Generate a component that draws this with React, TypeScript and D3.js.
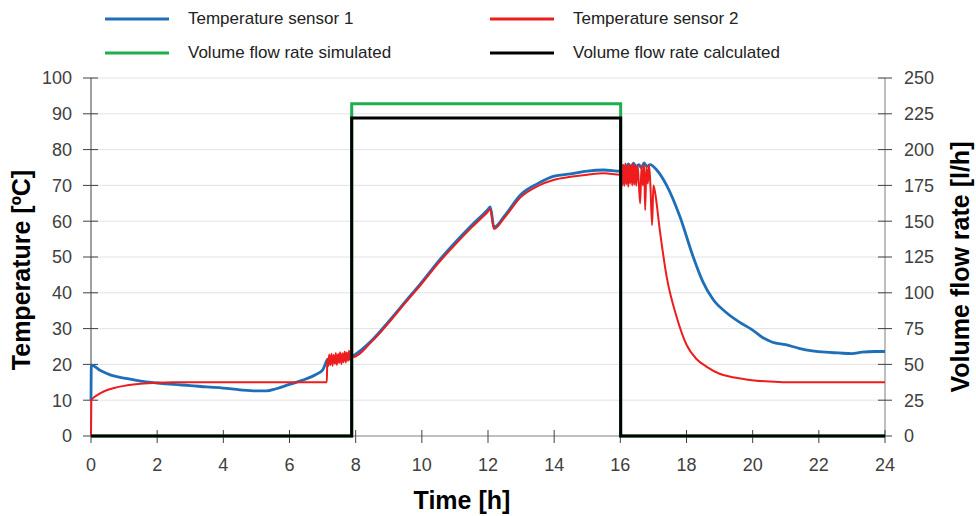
import * as d3 from 'd3'

// time [h] / temperature [°C] pairs
const sensor1Time = [
  0, 0.01, 0.3, 0.6, 1.0, 1.5, 2.0, 2.5, 3.0, 3.5, 4.0, 4.5, 5.0, 5.3, 5.6, 6.0, 6.4, 6.8, 7.0, 7.1, 7.15, 7.5, 7.9,
  8.5, 9.0, 9.5, 10.0, 10.5, 11.0, 11.5, 12.0, 12.07, 12.18, 12.5, 13.0, 13.5, 14.0, 14.5, 15.0, 15.5, 16.0,
  16.08, 16.16, 16.24, 16.32, 16.4, 16.48, 16.56, 16.64, 16.72, 16.8, 16.9,
  17.1, 17.4, 17.8, 18.2, 18.5, 18.8, 19.2, 19.6, 20.0, 20.3, 20.6, 21.0, 21.4, 21.8, 22.2, 22.6, 23.0, 23.3, 23.7, 24.0,
]
const sensor1Temp = [
  10, 19.8, 18.2, 17.0, 16.2, 15.3, 14.8, 14.4, 14.1, 13.7, 13.4, 12.9, 12.6, 12.6, 13.2, 14.4, 15.6, 17.2, 18.4, 20.5, 21.5, 21.2, 22.3,
  26.8, 32.0, 37.5, 43.0, 48.8, 54.0, 58.8, 63.3, 64.0, 58.3, 61.5, 67.5, 70.5, 72.6, 73.2, 74.0, 74.3, 74.0,
  75.5, 74.8, 76.0, 75.0, 76.2, 75.2, 75.8, 74.9, 76.3, 75.3, 75.8,
  74.3, 70.0, 61.3, 50.1, 43.0, 38.2, 34.5, 31.8, 29.6, 27.5, 26.2, 25.5, 24.5, 23.8, 23.4, 23.2, 23.0, 23.4, 23.6, 23.6,
]

const sensor2Time = [
  0, 0.01, 0.2, 0.4, 0.7, 1.0, 1.5, 2.0, 2.5, 7.13, 7.14,
  7.17, 7.2, 7.23, 7.27, 7.3, 7.33, 7.37, 7.4, 7.43, 7.47, 7.5, 7.53, 7.57, 7.6, 7.63, 7.67, 7.7, 7.73, 7.77, 7.8, 7.83, 7.87,
  7.9, 8.5, 9.0, 9.5, 10.0, 10.5, 11.0, 11.5, 12.0, 12.07, 12.18, 12.5, 13.0, 13.5, 14.0, 14.5, 15.0, 15.5, 16.0,
  16.03, 16.06, 16.09, 16.12, 16.15, 16.18, 16.21, 16.24, 16.27, 16.3, 16.33, 16.36, 16.39, 16.42, 16.45, 16.48,
  16.52, 16.56, 16.6, 16.64, 16.68, 16.72, 16.75, 16.79, 16.83, 16.87, 16.91, 16.96, 17.0,
  17.05, 17.2, 17.4, 17.7, 18.0, 18.3, 18.6, 19.0, 19.3, 19.8, 20.5, 21.0, 24.0,
]
const sensor2Temp = [
  0, 10, 11.5, 12.5, 13.4, 14.0, 14.6, 14.9, 15.0, 15.0, 21.4,
  19.5, 22.8, 19.8, 23.0, 19.6, 22.6, 20.2, 23.2, 19.9, 22.9, 20.4, 23.4, 20.1, 23.1, 20.6, 23.6, 20.5, 23.3, 21.0, 23.8, 21.2, 23.5,
  22.0, 26.5, 31.6, 37.2, 42.6, 48.3, 53.4, 58.2, 62.7, 63.4, 57.8, 61.0, 66.8, 69.8, 71.6, 72.4, 73.0, 73.4, 73.0,
  76.0, 70.0, 75.8, 69.8, 76.2, 70.3, 75.5, 69.6, 76.0, 70.5, 75.8, 70.0, 76.1, 70.2, 75.6, 69.9,
  75.8, 70.4, 65.0, 75.5, 70.0, 76.0, 63.1, 75.2, 70.5, 75.6, 69.8, 58.9, 70.0,
  68.0, 57.0, 44.5, 33.3, 25.5, 21.5, 19.4, 17.4, 16.6, 15.8, 15.2, 15.0, 15.0,
]

// time [h] / volume flow rate [l/h]
const flowTime = [0, 7.88, 7.88, 16.01, 16.01, 24]
const flowSimulated = [0, 0, 232, 232, 0, 0]
const flowCalculated = [0, 0, 222, 222, 0, 0]

const tempTicks = [0, 10, 20, 30, 40, 50, 60, 70, 80, 90, 100]
const flowTicks = [0, 25, 50, 75, 100, 125, 150, 175, 200, 225, 250]
const timeTicks = [0, 2, 4, 6, 8, 10, 12, 14, 16, 18, 20, 22, 24]

const legendItems = [
  { label: 'Temperature sensor 1', color: '#1f6fb8' },
  { label: 'Temperature sensor 2', color: '#ee1c1c' },
  { label: 'Volume flow rate simulated', color: '#1fae4f' },
  { label: 'Volume flow rate calculated', color: '#000000' },
]

const font = '"Liberation Sans", Arial, sans-serif'

export default function App() {
  const width = 976
  const height = 516
  const margin = { top: 78, right: 91, bottom: 80, left: 91 }
  const x0 = margin.left
  const x1 = width - margin.right
  const y0 = height - margin.bottom
  const y1 = margin.top

  const x = d3.scaleLinear().domain([0, 24]).range([x0, x1])
  const yT = d3.scaleLinear().domain([0, 100]).range([y0, y1])
  const yF = d3.scaleLinear().domain([0, 250]).range([y0, y1])

  const mk = (
    ts: number[],
    vs: number[],
    ys: d3.ScaleLinear<number, number>,
    curve: d3.CurveFactory = d3.curveLinear
  ) =>
    d3
      .line<number>()
      .x((_, i) => x(ts[i]))
      .y((d) => ys(d))
      .curve(curve)(vs) || ''

  return (
    <svg
      width={width}
      height={height}
      style={{ position: 'absolute', left: 0, top: 0, background: '#fff', fontFamily: font }}
    >
      {/* gridlines */}
      {tempTicks.slice(1).map((t) => (
        <line key={'g' + t} x1={x0} x2={x1} y1={yT(t)} y2={yT(t)} stroke="#e3e3e3" strokeWidth={1} />
      ))}

      {/* axes */}
      <line x1={x0} x2={x0} y1={y1} y2={y0} stroke="#404040" strokeWidth={1} />
      <line x1={x1} x2={x1} y1={y1} y2={y0} stroke="#7f7f7f" strokeWidth={1} />
      <line x1={x0} x2={x1} y1={y0} y2={y0} stroke="#7f7f7f" strokeWidth={1} />

      {tempTicks.map((t) => (
        <g key={'l' + t}>
          <line x1={x0 - 8} x2={x0 + 7} y1={yT(t)} y2={yT(t)} stroke="#404040" />
          <text x={72} y={yT(t)} dy="0.35em" textAnchor="end" fontSize={18} fill="#404040">
            {t}
          </text>
        </g>
      ))}
      {flowTicks.map((f) => (
        <g key={'r' + f}>
          <line x1={x1 - 7} x2={x1 + 7} y1={yF(f)} y2={yF(f)} stroke="#404040" />
          <text x={904} y={yF(f)} dy="0.35em" textAnchor="start" fontSize={18} fill="#404040">
            {f}
          </text>
        </g>
      ))}
      {timeTicks.map((t) => (
        <g key={'b' + t}>
          <line x1={x(t)} x2={x(t)} y1={y0 - 6} y2={y0 + 7} stroke="#404040" />
          <text x={x(t)} y={471} textAnchor="middle" fontSize={18} fill="#404040">
            {t}
          </text>
        </g>
      ))}

      {/* series */}
      <path
        d={mk(sensor1Time, sensor1Temp, yT, d3.curveMonotoneX)}
        fill="none"
        stroke="#1f6fb8"
        strokeWidth={2.8}
        strokeLinejoin="round"
      />
      <path
        d={mk(sensor2Time, sensor2Temp, yT, d3.curveMonotoneX)}
        fill="none"
        stroke="#ee1c1c"
        strokeWidth={2}
        strokeLinejoin="round"
      />
      <path d={mk(flowTime, flowSimulated, yF)} fill="none" stroke="#1fae4f" strokeWidth={3} />
      <path d={mk(flowTime, flowCalculated, yF)} fill="none" stroke="#000" strokeWidth={3} />

      {/* axis titles */}
      <text
        transform={`translate(30,270) rotate(-90)`}
        textAnchor="middle"
        fontSize={25}
        fontWeight="bold"
        fill="#000"
      >
        Temperature [ºC]
      </text>
      <text
        transform={`translate(969,267) rotate(-90)`}
        textAnchor="middle"
        fontSize={25}
        fontWeight="bold"
        fill="#000"
      >
        Volume flow rate [l/h]
      </text>
      <text x={462} y={509} textAnchor="middle" fontSize={25} fontWeight="bold" fill="#000">
        Time [h]
      </text>

      {/* legend */}
      {legendItems.map((item, i) => {
        const lx = i % 2 === 0 ? 105 : 490
        const ly = i < 2 ? 19 : 53
        return (
          <g key={item.label}>
            <line x1={lx} x2={lx + 64} y1={ly} y2={ly} stroke={item.color} strokeWidth={3} />
            <text x={lx + 83} y={ly} dy="0.3em" fontSize={17} fill="#222">
              {item.label}
            </text>
          </g>
        )
      })}
    </svg>
  )
}
